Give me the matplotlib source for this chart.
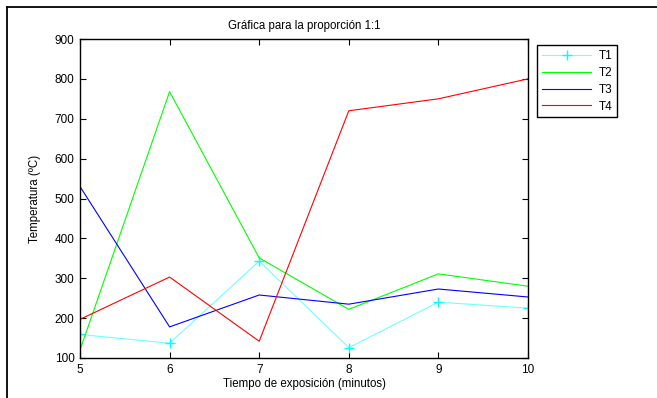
import matplotlib
matplotlib.use("Agg")
from matplotlib import pyplot as plt
from matplotlib.lines import Line2D

plt.rcParams['font.family'] = ['Liberation Sans', 'DejaVu Sans']

minutes = [5, 6, 7, 8, 9, 10]
t1 = [159, 137, 343, 126, 240, 225]
t2 = [120, 768, 351, 222, 311, 280]
t3 = [530, 178, 258, 235, 273, 253]
t4 = [197, 303, 142, 720, 750, 800]
labels = ['T1', 'T2', 'T3', 'T4']

W, H = 657, 398
fig = plt.figure(figsize=(W / 100, H / 100), dpi=100)
ax = fig.add_axes([80 / W, 1 - 358 / H, 448 / W, 319 / H])

lw = 0.8
ax.plot(minutes, t1, '-', color='#70ffff', lw=lw, marker='+', ms=7, mew=1.0,
        mec='#00ffff', label=labels[0])
ax.plot(minutes, t2, '-', color='#00ff00', lw=lw, label=labels[1])
ax.plot(minutes, t3, '-', color='#0000ff', lw=lw, label=labels[2])
ax.plot(minutes, t4, '-', color='#ff0000', lw=lw, label=labels[3])

ax.set_xlim(5, 10)
ax.set_ylim(100, 900)
ax.set_xticks(minutes)
ax.set_yticks(range(100, 901, 100))
ax.tick_params(direction='in', top=True, right=True, length=4, width=0.8,
               labelsize=8.5, pad=4)
for s in ax.spines.values():
    s.set_linewidth(1.0)

ax.set_title('Gráfica para la proporción 1:1', fontsize=8.3, pad=7)
ax.set_xlabel('Tiempo de exposición (minutos)', fontsize=8.3, labelpad=2)
ax.set_ylabel('Temperatura (ºC)', fontsize=8.3, labelpad=10)

leg = ax.legend(loc='upper left', bbox_to_anchor=(537 / W, 1 - 45 / H),
                bbox_transform=fig.transFigure, fontsize=8.5, frameon=True,
                fancybox=False, edgecolor='black', framealpha=1,
                handlelength=4.2, handletextpad=0.6, borderpad=0.4,
                labelspacing=0.42, borderaxespad=0)
leg.get_frame().set_linewidth(1.0)

# outer frame of the original figure
fig.add_artist(Line2D([6.5 / W, 6.5 / W], [0, 1 - 7 / H], color='black', lw=1.3,
                      transform=fig.transFigure))
fig.add_artist(Line2D([6.5 / W, 1], [1 - 7 / H, 1 - 7 / H], color='black', lw=1.3,
                      transform=fig.transFigure))

fig.savefig('out.png', dpi=100)
